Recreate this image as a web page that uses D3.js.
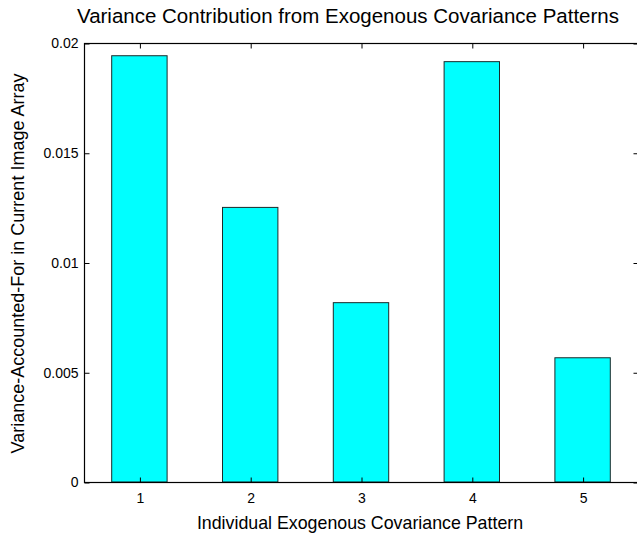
<!DOCTYPE html>
<html>
<head>
<meta charset="utf-8">
<script src="https://cdn.jsdelivr.net/npm/d3@7"></script>
<style>
  html, body { margin: 0; padding: 0; background: #fff; }
  svg { display: block; }
  text { font-family: "Liberation Sans", Arial, sans-serif; fill: #000; }
</style>
</head>
<body>
<svg id="chart" width="637" height="538"></svg>
<script>
const categories = [1, 2, 3, 4, 5];
const values = [0.01942, 0.01251, 0.00817, 0.01915, 0.00566];
const yTicks = [0, 0.005, 0.01, 0.015, 0.02];
const yTickLabels = ["0", "0.005", "0.01", "0.015", "0.02"];
const titleText = "Variance Contribution from Exogenous Covariance Patterns";
const xLabelText = "Individual Exogenous Covariance Pattern";
const yLabelText = "Variance-Accounted-For in Current Image Array";

const svg = d3.select("#chart");
const mLeft = 84, mRight = 638, mTop = 43, mBottom = 482;

const x = d3.scaleLinear().domain([0.5, 5.5]).range([mLeft, mRight]);
const y = d3.scaleLinear().domain([0, 0.02]).range([mBottom, mTop]);
const barW = x(1.5) - x(1);

// bars
svg.append("g").selectAll("rect").data(values).join("rect")
  .attr("x", (d, i) => x(categories[i]) - barW / 2)
  .attr("y", d => y(d))
  .attr("width", barW)
  .attr("height", d => y(0) - y(d))
  .attr("fill", "#00ffff")
  .attr("stroke", "#1b2b2b")
  .attr("stroke-width", 1);

// axes box
svg.append("rect")
  .attr("x", mLeft + 0.5).attr("y", mTop + 0.5)
  .attr("width", mRight - mLeft).attr("height", mBottom - mTop)
  .attr("fill", "none").attr("stroke", "#000").attr("stroke-width", 1.2);

const tickLen = 5;
// bottom axis (ticks inward)
const xAxis = d3.axisBottom(x).tickValues(categories).tickFormat(d3.format("d"))
  .tickSizeInner(-tickLen).tickSizeOuter(0).tickPadding(11);
const gx = svg.append("g").attr("transform", `translate(0.5,${mBottom + 0.5})`).call(xAxis);
gx.select(".domain").remove();
gx.selectAll("text").attr("font-size", 14);

// top ticks
const gxt = svg.append("g").attr("transform", `translate(0.5,${mTop + 0.5})`)
  .call(d3.axisTop(x).tickValues(categories).tickFormat("").tickSizeInner(-tickLen).tickSizeOuter(0));
gxt.select(".domain").remove();

// left axis
const yAxis = d3.axisLeft(y).tickValues(yTicks).tickFormat((d, i) => yTickLabels[i])
  .tickSizeInner(-tickLen).tickSizeOuter(0).tickPadding(6);
const gy = svg.append("g").attr("transform", `translate(${mLeft + 0.5},0.5)`).call(yAxis);
gy.select(".domain").remove();
gy.selectAll("text").attr("font-size", 14);

// right ticks
const gyr = svg.append("g").attr("transform", `translate(${mRight + 0.5},0.5)`)
  .call(d3.axisRight(y).tickValues(yTicks).tickFormat("").tickSizeInner(-tickLen).tickSizeOuter(0));
gyr.select(".domain").remove();

// title
svg.append("text")
  .attr("x", 348).attr("y", 23)
  .attr("text-anchor", "middle")
  .attr("font-size", 20.5)
  .text(titleText);

// x label
svg.append("text")
  .attr("x", 360).attr("y", 529)
  .attr("text-anchor", "middle")
  .attr("font-size", 17.8)
  .text(xLabelText);

// y label
svg.append("text")
  .attr("transform", `translate(24,${(mTop + mBottom) / 2 + 1}) rotate(-90)`)
  .attr("text-anchor", "middle")
  .attr("font-size", 18)
  .text(yLabelText);
</script>
</body>
</html>
